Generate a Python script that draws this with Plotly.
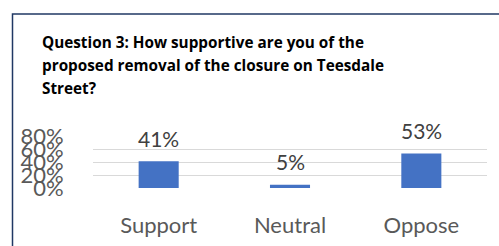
import plotly.graph_objects as go

categories = ["Support", "Neutral", "Oppose"]
values = [0.41, 0.05, 0.53]
labels = ["41%", "5%", "53%"]
tick_vals = [0, 0.2, 0.4, 0.6, 0.8]
tick_text = ["0%", "20%", "40%", "60%", "80%"]
title_lines = ["Question 3: How supportive are you of the",
               "proposed removal of the closure on Teesdale",
               "Street?"]

W, H = 499, 246
L, R, T, B = 93, 12, 136, 58
pw = W - L - R
ph = H - T - B

def px_x(x):
    return (x - L) / pw

def px_y(y):
    return (H - B - y) / ph

fig = go.Figure()
fig.add_trace(go.Bar(
    x=categories, y=values, width=0.305,
    marker=dict(color="#4472C4", line=dict(width=0)),
    hoverinfo="skip",
))

for c, v, t in zip(categories, values, labels):
    fig.add_annotation(x=c, y=v, text=t, showarrow=False, yshift=23,
                       font=dict(family="Lato", size=21, color="#404040"))

for i, line in enumerate(title_lines):
    fig.add_annotation(xref="paper", yref="paper", x=px_x(40), y=px_y(42 + 23 * i),
                       xanchor="left", yanchor="middle", showarrow=False, text=line,
                       font=dict(family="Open Sans", size=15.3, color="#000000",
                                 weight="bold"))

# outer frame
fig.add_shape(type="rect", xref="paper", yref="paper",
              x0=px_x(12.5), x1=px_x(W + 20), y0=px_y(H + 20), y1=px_y(14),
              line=dict(color="#203864", width=1.5), layer="above")

fig.update_layout(
    width=W, height=H,
    margin=dict(l=L, r=R, t=T, b=B, pad=0),
    paper_bgcolor="white", plot_bgcolor="white",
    showlegend=False,
    bargap=0.7,
)
fig.update_yaxes(range=[0, 0.8], tickvals=tick_vals, ticktext=tick_text,
                 showgrid=True, gridcolor="#D9D9D9", gridwidth=1.3,
                 zeroline=False, showline=False, automargin=False,
                 ticks="outside", ticklen=24, tickcolor="rgba(0,0,0,0)",
                 tickfont=dict(family="Lato", size=22, color="#595959"))
fig.update_xaxes(showgrid=False, showline=False, zeroline=False, automargin=False,
                 ticks="outside", ticklen=18, tickcolor="rgba(0,0,0,0)",
                 tickfont=dict(family="Lato", size=22, color="#595959"))

fig.write_html("out.html", config={"displayModeBar": False},
               post_script="document.body.style.margin='0';document.body.style.overflow='hidden';")
